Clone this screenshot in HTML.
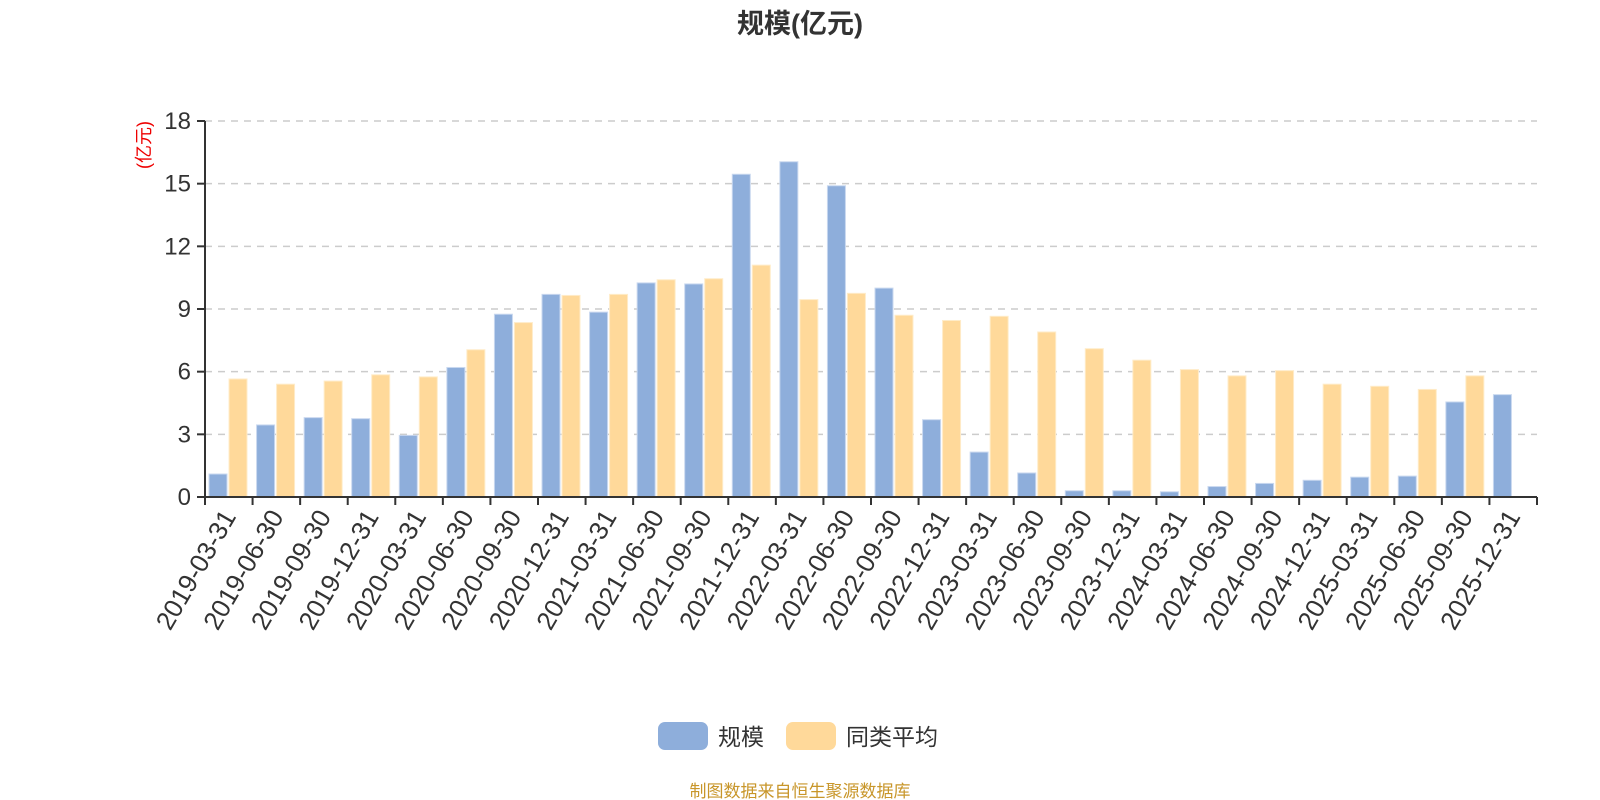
<!DOCTYPE html>
<html><head><meta charset="utf-8"><style>
html,body{margin:0;padding:0;background:#fff;}
svg{display:block;font-family:"Liberation Sans","Noto Sans CJK SC",sans-serif;}
</style></head><body>
<svg id="chart" width="1600" height="800" viewBox="0 0 1600 800" xmlns="http://www.w3.org/2000/svg">
<text x="800" y="33" text-anchor="middle" font-size="27" font-weight="bold" fill="#333">规模(亿元)</text>
<text transform="translate(150,145) rotate(-90)" text-anchor="middle" font-size="18" fill="#e00">(亿元)</text>
<g id="grid"></g><g id="bars"></g><g id="axes"></g>
<g>
<g><rect x="658" y="722" width="50" height="28" rx="7" fill="#8eaedb"/><text x="718" y="745" font-size="23" fill="#333">规模</text></g>
<g><rect x="786" y="722" width="50" height="28" rx="7" fill="#ffd99a"/><text x="846" y="745" font-size="23" fill="#333">同类平均</text></g>
</g>
<text x="800" y="797" text-anchor="middle" font-size="17" fill="#c8962a">制图数据来自恒生聚源数据库</text>
</svg>
<script>
const categories=["2019-03-31","2019-06-30","2019-09-30","2019-12-31","2020-03-31","2020-06-30","2020-09-30","2020-12-31","2021-03-31","2021-06-30","2021-09-30","2021-12-31","2022-03-31","2022-06-30","2022-09-30","2022-12-31","2023-03-31","2023-06-30","2023-09-30","2023-12-31","2024-03-31","2024-06-30","2024-09-30","2024-12-31","2025-03-31","2025-06-30","2025-09-30","2025-12-31"];
const scaleValues=[1.1,3.45,3.8,3.75,2.95,6.2,8.75,9.7,8.85,10.25,10.2,15.45,16.05,14.9,10.0,3.7,2.15,1.15,0.3,0.3,0.25,0.5,0.65,0.8,0.95,1.0,4.55,4.9];
const avgValues=[5.65,5.4,5.55,5.85,5.75,7.05,8.35,9.65,9.7,10.4,10.45,11.1,9.45,9.75,8.7,8.45,8.65,7.9,7.1,6.55,6.1,5.8,6.05,5.4,5.3,5.15,5.8,null];
const yTicks=[0,3,6,9,12,15,18];
const NS="http://www.w3.org/2000/svg";
const x0=205,x1=1537,yTop=121,yBot=497,yMax=18;
const bw=(x1-x0)/categories.length;
function y(v){return yBot-(v/yMax)*(yBot-yTop);}
function mk(tag,attrs,parent){const e=document.createElementNS(NS,tag);for(const k in attrs)e.setAttribute(k,attrs[k]);parent.appendChild(e);return e;}
const grid=document.getElementById('grid'),bars=document.getElementById('bars'),axes=document.getElementById('axes');
yTicks.forEach(t=>{
 if(t>0){const l=mk('line',{x1:x0,x2:x1,y1:y(t),y2:y(t),stroke:'#ccc','stroke-width':1.5,'stroke-dasharray':'7,6'},grid);
 
 }
 const tk=mk('line',{x1:x0-8,x2:x0,y1:y(t),y2:y(t),stroke:'#333','stroke-width':2},axes);
 
 
 const tx=mk('text',{x:x0-14,y:y(t)+8,'text-anchor':'end','font-size':24,fill:'#333'},axes);
 tx.textContent=t;
 
 
});
categories.forEach((c,i)=>{
 const cx=x0+bw*i;
 const w=18;
 const b1=mk('rect',{x:cx+4,y:y(scaleValues[i]),width:w,height:yBot-y(scaleValues[i]),fill:'#8eaedb',stroke:'#c9d8ef','stroke-width':1},bars);
 
 
 if(avgValues[i]!=null){
 const b2=mk('rect',{x:cx+24,y:y(avgValues[i]),width:w,height:yBot-y(avgValues[i]),fill:'#ffd99a',stroke:'#ffecc9','stroke-width':1},bars);
 
 }
 const tk=mk('line',{x1:cx,x2:cx,y1:yBot,y2:yBot+8,stroke:'#333','stroke-width':2},axes);
 
 
 const mid=cx+bw/2;
 const tx=mk('text',{x:mid+2,y:yBot+16,'text-anchor':'end','font-size':26,fill:'#333',transform:`rotate(-60 ${mid+2} ${yBot+16})`,'dominant-baseline':'middle'},axes);
 tx.textContent=c;
 
 
});
const endTick=mk('line',{x1:x1,x2:x1,y1:yBot,y2:yBot+8,stroke:'#333','stroke-width':2},axes);


const xa=mk('line',{x1:x0,x2:x1,y1:yBot,y2:yBot,stroke:'#333','stroke-width':2},axes);


const ya=mk('line',{x1:x0,x2:x0,y1:yTop,y2:yBot,stroke:'#333','stroke-width':2},axes);


</script>
</body></html>
